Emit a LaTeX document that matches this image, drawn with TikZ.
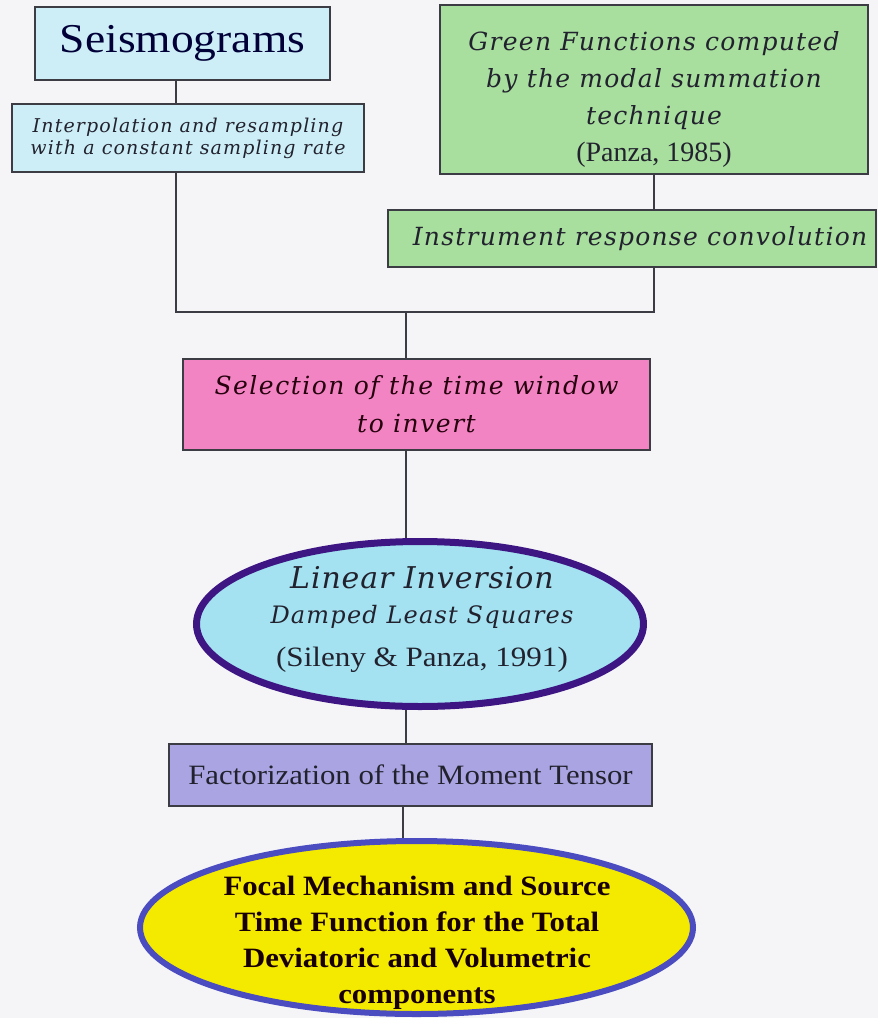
\documentclass[tikz,border=0pt]{standalone}
\usepackage{fontspec}
\setmainfont{Liberation Serif}
\newfontfamily\calli{DejaVu Serif}
\usetikzlibrary{shapes.geometric}

\definecolor{paper}{HTML}{F5F5F7}
\definecolor{edge}{HTML}{3C3C44}
\definecolor{ink}{HTML}{22222E}
\definecolor{cyanfill}{HTML}{CDEEF6}
\definecolor{greenfill}{HTML}{A8DE9E}
\definecolor{pinkfill}{HTML}{F384C4}
\definecolor{invfill}{HTML}{A4E2F2}
\definecolor{invedge}{HTML}{3D1683}
\definecolor{lavfill}{HTML}{AAA4E2}
\definecolor{yelfill}{HTML}{F4EA00}
\definecolor{yeledge}{HTML}{4A4CC0}

% horizontal stretch of the current font
\newcommand\hstretch[1]{\addfontfeatures{FakeStretch=#1}}
% italic hand, size / line skip / letter spacing
\newcommand\callit[3]{\calli\itshape\fontsize{#1}{#2}\selectfont\addfontfeatures{LetterSpace=#3}}

\tikzset{
  box/.style={draw=edge, line width=1.5pt, inner sep=0pt, align=center,
              text=ink, rectangle},
  oval/.style={ellipse, inner sep=0pt},
  link/.style={draw=edge, line width=1.4pt},
}

\begin{document}
\begin{tikzpicture}[x=1pt,y=1pt]
  \fill[paper] (0,0) rectangle (878,-1018);
  \useasboundingbox (0,0) rectangle (878,-1018);

  % upper left branch
  \node[box, fill=cyanfill, minimum width=295, minimum height=73,
        text=black!78!blue, font={\fontsize{41}{48}\selectfont\hstretch{1.11}}]
    (seis) at (182.5,-43.5) {Seismograms};
  \node[box, fill=cyanfill, minimum width=352, minimum height=68,
        font={\callit{19}{22}{6}}]
    (interp) at (188,-138)
    {Interpolation and resampling\\ with a constant sampling rate};

  % upper right branch
  \node[box, fill=greenfill, minimum width=428, minimum height=169]
    (green) at (654,-89.5) {};
  \node[align=center, text=ink, inner sep=0pt, font={\callit{25}{37}{5}}]
    (greentext) at (654,-99.5)
    {Green Functions computed\\ by the modal summation\\ technique\\
     {\normalfont\fontsize{28}{37}\selectfont (Panza, 1985)}};
  \node[box, fill=greenfill, minimum width=488, minimum height=57,
        font={\callit{25}{30}{5}}]
    (instr) at (632,-238.5) {\hspace*{16pt}Instrument response convolution};

  % junction of the two branches
  \coordinate (junc) at (406,-312);
  \coordinate (lx) at (176,0);
  \coordinate (fx) at (403,0);

  \node[box, fill=pinkfill, minimum width=467, minimum height=91,
        text=black!80!purple, font={\callit{25}{38}{6}}]
    (sel) at (416.5,-404.5) {Selection of the time window\\ to invert};

  \node[oval, draw=invedge, line width=7pt, fill=invfill,
        minimum width=447, minimum height=165]
    (inv) at (420,-624) {};
  \node[align=center, text=ink, inner sep=0pt,
        font={\fontsize{24}{35}\selectfont}] (invtext) at (422,-619)
    {{\callit{30}{35}{3}Linear Inversion}\\
     {\callit{24}{35}{5}Damped Least Squares}\\[8pt]
     {\fontsize{28}{35}\selectfont\hstretch{1.11}(Sileny \& Panza, 1991)}};

  \node[box, fill=lavfill, minimum width=483, minimum height=62,
        font={\fontsize{28}{34}\selectfont\hstretch{1.1}}]
    (fact) at (410.5,-775) {Factorization of the Moment Tensor};

  \node[oval, draw=yeledge, line width=6pt, fill=yelfill,
        minimum width=553, minimum height=173]
    (final) at (416.5,-927.5) {};
  \node[align=center, text=black!90!red, inner sep=0pt,
        font={\fontsize{28}{36}\selectfont\bfseries\hstretch{1.1}}]
    (finaltext) at (417,-943)
    {Focal Mechanism and Source\\
     Time Function for the Total\\
     Deviatoric and Volumetric\\
     components};

  % connectors
  \draw[link] (seis.south -| lx) -- (interp.north -| lx);
  \draw[link] (interp.south -| lx) |- (junc);
  \draw[link] (green.south) -- (green.south |- instr.north);
  \draw[link] (junc) -| (green.south |- instr.south);
  \draw[link] (junc) -- (junc |- sel.north);
  \draw[link] (sel.south -| junc) -- (junc |- inv.north);
  \draw[link] (junc |- inv.south) -- (junc |- fact.north);
  \draw[link] (fact.south -| fx) -- (final.north -| fx);
\end{tikzpicture}
\end{document}
